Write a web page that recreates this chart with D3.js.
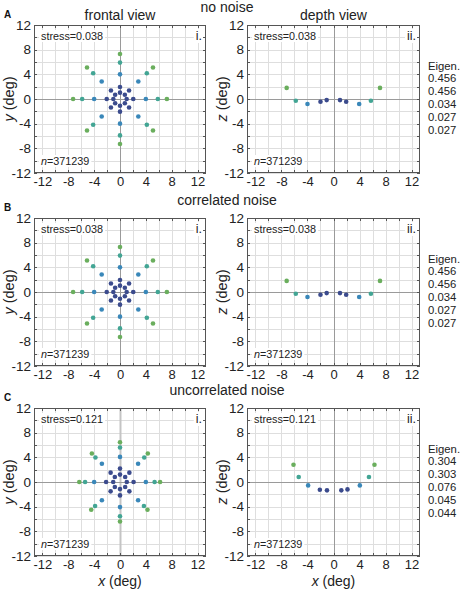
<!DOCTYPE html>
<html><head><meta charset="utf-8">
<script src="https://cdn.jsdelivr.net/npm/d3@7/dist/d3.min.js"></script>
<style>
body{margin:0;background:#fff;}
svg{display:block;font-family:"Liberation Sans",Arial,Helvetica,sans-serif;}
</style></head>
<body>
<script>
// ---------- data ----------
const tickValues = [-12,-8,-4,0,4,8,12];
const gridValues = [-12,-10,-8,-6,-4,-2,0,2,4,6,8,10,12];
const rowLetters = ['A','B','C'];
const rowTitles = ['no noise','correlated noise','uncorrelated noise'];
const stressValues = ['0.038','0.038','0.121'];
const nValue = '371239';
const eigenNoNoise = ['0.456','0.456','0.034','0.027','0.027'];
const eigenCorrelated = ['0.456','0.456','0.034','0.027','0.027'];
const eigenUncorrelated = ['0.304','0.303','0.076','0.045','0.044'];
const ringColors = ['#3b4b8d','#3b4b8d','#3987b9','#42a594','#6aae5d'];

// [x, y, ring]
const frontalNoNoise = [
 [1.03,0,0],[0.75,0.7,0],[0,1.03,0],[-0.75,0.7,0],[-1.03,0,0],[-0.75,-0.7,0],[0,-1.1,0],[0.75,-0.7,0],
 [2.05,0,1],[1.4,1.37,1],[0,1.95,1],[-1.4,1.37,1],[-2.05,0,1],[-1.4,-1.37,1],[0,-2.05,1],[1.4,-1.37,1],
 [4.0,0,2],[2.83,2.83,2],[0,4.0,2],[-2.83,2.83,2],[-4.0,0,2],[-2.83,-2.83,2],[0,-4.0,2],[2.83,-2.83,2],
 [5.85,0,3],[4.15,4.17,3],[0,5.9,3],[-4.15,4.17,3],[-5.85,0,3],[-4.15,-4.17,3],[0,-5.9,3],[4.15,-4.17,3],
 [7.25,0,4],[5.1,5.12,4],[0,7.3,4],[-5.1,5.12,4],[-7.25,0,4],[-5.1,-5.12,4],[0,-7.3,4],[5.1,-5.12,4]
];
const frontalCorrelated = [
 [1.03,0,0],[0.75,0.7,0],[0,1.03,0],[-0.75,0.7,0],[-1.03,0,0],[-0.75,-0.7,0],[0,-1.1,0],[0.75,-0.7,0],
 [2.05,0,1],[1.4,1.37,1],[0,1.95,1],[-1.4,1.37,1],[-2.05,0,1],[-1.4,-1.37,1],[0,-2.05,1],[1.4,-1.37,1],
 [4.0,0,2],[2.83,2.83,2],[0,4.0,2],[-2.83,2.83,2],[-4.0,0,2],[-2.83,-2.83,2],[0,-4.0,2],[2.83,-2.83,2],
 [5.85,0,3],[4.15,4.17,3],[0,5.9,3],[-4.15,4.17,3],[-5.85,0,3],[-4.15,-4.17,3],[0,-5.9,3],[4.15,-4.17,3],
 [7.25,0,4],[5.1,5.12,4],[0,7.3,4],[-5.1,5.12,4],[-7.25,0,4],[-5.1,-5.12,4],[0,-7.3,4],[5.1,-5.12,4]
];
const frontalUncorrelated = [
 [1.05,0,0],[0.8,0.8,0],[0,1.2,0],[-0.8,0.8,0],[-1.05,0,0],[-0.8,-0.8,0],[0,-1.15,0],[0.8,-0.8,0],
 [2.1,0,1],[1.45,1.52,1],[0,2.17,1],[-1.45,1.52,1],[-2.15,0,1],[-1.45,-1.52,1],[0,-2.17,1],[1.45,-1.52,1],
 [4.0,0,2],[2.8,2.95,2],[0,4.07,2],[-2.8,2.95,2],[-4.0,0,2],[-2.8,-2.95,2],[0,-4.07,2],[2.8,-2.95,2],
 [5.35,0,3],[3.75,3.97,3],[0,5.6,3],[-3.8,3.97,3],[-5.4,0,3],[-3.85,-3.9,3],[0,-5.55,3],[3.7,-3.9,3],
 [6.2,0,4],[4.3,4.62,4],[0,6.45,4],[-4.35,4.62,4],[-6.3,0,4],[-4.45,-4.5,4],[0,-6.4,4],[4.25,-4.5,4]
];
// [x, z, ring]
const depthNoNoise = [[-7.2,1.8,4],[-5.8,-0.28,3],[-4.0,-0.82,2],[-2.0,-0.45,1],[-1.05,-0.18,0],
 [1.0,-0.18,0],[1.95,-0.45,1],[3.95,-0.82,2],[5.75,-0.28,3],[7.15,1.8,4]];
const depthCorrelated = [[-7.2,1.8,4],[-5.8,-0.28,3],[-4.0,-0.82,2],[-2.0,-0.45,1],[-1.05,-0.18,0],
 [1.0,-0.18,0],[1.95,-0.45,1],[3.95,-0.82,2],[5.75,-0.28,3],[7.15,1.8,4]];
const depthUncorrelated = [[-6.15,2.8,4],[-5.35,0.8,3],[-3.9,-0.55,2],[-2.1,-1.25,1],[-1.0,-1.35,0],
 [1.2,-1.35,0],[2.15,-1.2,1],[4.05,-0.55,2],[5.45,0.8,3],[6.3,2.8,4]];

const rows = [
 {frontal: frontalNoNoise, depth: depthNoNoise, eigen: eigenNoNoise},
 {frontal: frontalCorrelated, depth: depthCorrelated, eigen: eigenCorrelated},
 {frontal: frontalUncorrelated, depth: depthUncorrelated, eigen: eigenUncorrelated}
];

// ---------- layout ----------
const W = 462, H = 589;
const cols = [{x0:34, x1:206}, {x0:247, x1:420}];
const rowBox = [{y0:25, y1:173}, {y0:218, y1:366}, {y0:408, y1:556}];

const svg = d3.select('body').append('svg').attr('width', W).attr('height', H);
svg.append('rect').attr('width', W).attr('height', H).attr('fill', '#fff');

function panel(g, box, rb, pts, yLetter, roman, stress, showX, thickZero) {
  const x = d3.scaleLinear().domain([-13.3, 13.3]).range([box.x0, box.x1]);
  const y = d3.scaleLinear().domain([-12, 12]).range([rb.y1, rb.y0]);
  // grid
  g.append('g').selectAll('line.gx').data(gridValues).join('line')
    .attr('x1', d => Math.round(x(d)) + 0.5).attr('x2', d => Math.round(x(d)) + 0.5)
    .attr('y1', rb.y0).attr('y2', rb.y1).attr('stroke', '#dedede').attr('stroke-width', 1);
  g.append('g').selectAll('line.gy').data(gridValues).join('line')
    .attr('y1', d => Math.round(y(d)) + 0.5).attr('y2', d => Math.round(y(d)) + 0.5)
    .attr('x1', box.x0).attr('x2', box.x1).attr('stroke', '#dedede').attr('stroke-width', 1);
  // zero lines
  g.append('line').attr('x1', Math.round(x(0)) + 0.5).attr('x2', Math.round(x(0)) + 0.5)
    .attr('y1', rb.y0).attr('y2', rb.y1)
    .attr('stroke', thickZero ? '#c4c4c4' : '#9a9a9a').attr('stroke-width', thickZero ? 2 : 1);
  g.append('line').attr('y1', Math.round(y(0)) + 0.5).attr('y2', Math.round(y(0)) + 0.5)
    .attr('x1', box.x0).attr('x2', box.x1).attr('stroke', '#9a9a9a').attr('stroke-width', 1);

  // text boxes
  const fs = 10.8;
  const st = g.append('text').attr('x', box.x0 + 7).attr('y', rb.y0 + 15)
    .attr('font-size', fs).attr('fill', '#222').text('stress=' + stress);
  const sb = st.node().getBBox();
  g.insert('rect', () => st.node()).attr('x', sb.x - 2).attr('y', sb.y).attr('width', sb.width + 4)
    .attr('height', sb.height).attr('fill', '#fff');
  const nt = g.append('text').attr('x', box.x0 + 7).attr('y', rb.y1 - 8)
    .attr('font-size', fs).attr('fill', '#222');
  nt.append('tspan').attr('font-style', 'italic').text('n');
  nt.append('tspan').text('=' + nValue);
  const nb = nt.node().getBBox();
  g.insert('rect', () => nt.node()).attr('x', nb.x - 2).attr('y', nb.y).attr('width', nb.width + 4)
    .attr('height', nb.height).attr('fill', '#fff');
  const rt = g.append('text').attr('x', box.x1 - 4).attr('y', rb.y0 + 15).attr('text-anchor', 'end')
    .attr('font-size', 12.5).attr('fill', '#222').text(roman);
  const rbb = rt.node().getBBox();
  g.insert('rect', () => rt.node()).attr('x', rbb.x - 2).attr('y', rbb.y).attr('width', rbb.width + 3)
    .attr('height', rbb.height).attr('fill', '#fff');

  // inner ticks
  const tk = g.append('g').attr('stroke', '#555').attr('stroke-width', 1);
  gridValues.forEach(v => {
    const px = Math.round(x(v)) + 0.5, py = Math.round(y(v)) + 0.5;
    tk.append('line').attr('x1', px).attr('x2', px).attr('y1', rb.y1).attr('y2', rb.y1 - 3);
    tk.append('line').attr('x1', px).attr('x2', px).attr('y1', rb.y0).attr('y2', rb.y0 + 3);
    tk.append('line').attr('y1', py).attr('y2', py).attr('x1', box.x0).attr('x2', box.x0 + 3);
    tk.append('line').attr('y1', py).attr('y2', py).attr('x1', box.x1).attr('x2', box.x1 - 3);
  });

  // axes labels via d3 axes
  const ax = g.append('g').attr('transform', `translate(0,${rb.y1})`)
    .call(d3.axisBottom(x).tickValues(tickValues).tickSize(0).tickPadding(4).tickFormat(d => String(d)));
  ax.select('.domain').remove();
  ax.selectAll('text').attr('font-size', 13).attr('fill', '#222')
    .attr('font-family', '"Liberation Sans",Arial,sans-serif');
  const ay = g.append('g').attr('transform', `translate(${box.x0},0)`)
    .call(d3.axisLeft(y).tickValues(tickValues).tickSize(0).tickPadding(3).tickFormat(d => String(d)));
  ay.select('.domain').remove();
  ay.selectAll('text').attr('font-size', 13.5).attr('fill', '#222')
    .attr('font-family', '"Liberation Sans",Arial,sans-serif');

  // frame
  g.append('rect').attr('x', box.x0 + 0.5).attr('y', rb.y0 + 0.5)
    .attr('width', box.x1 - box.x0 - 1).attr('height', rb.y1 - rb.y0 - 1)
    .attr('fill', 'none').attr('stroke', '#555').attr('stroke-width', 1);

  // points
  g.append('g').selectAll('circle').data(pts).join('circle')
    .attr('cx', d => x(d[0])).attr('cy', d => y(d[1])).attr('r', 2.3)
    .attr('fill', d => ringColors[d[2]]);

  // y label
  const cy = (rb.y0 + rb.y1) / 2;
  const yl = g.append('text').attr('transform', `translate(${box.x0 - 20},${cy}) rotate(-90)`)
    .attr('text-anchor', 'middle').attr('font-size', 14.5).attr('fill', '#222');
  yl.append('tspan').attr('font-style', 'italic').text(yLetter);
  yl.append('tspan').text(' (deg)');
  if (showX) {
    const xl = g.append('text').attr('x', (box.x0 + box.x1) / 2).attr('y', rb.y1 + 29.5)
      .attr('text-anchor', 'middle').attr('font-size', 14).attr('fill', '#222');
    xl.append('tspan').attr('font-style', 'italic').text('x');
    xl.append('tspan').text(' (deg)');
  }
}

rows.forEach((r, i) => {
  const rb = rowBox[i];
  const g = svg.append('g');
  panel(g, cols[0], rb, r.frontal, 'y', 'i.', stressValues[i], i === 2, i === 2);
  panel(g, cols[1], rb, r.depth, 'z', 'ii.', stressValues[i], i === 2, false);
  // row letter
  g.append('text').attr('x', 4).attr('y', rb.y0 - 7).attr('font-size', 10).attr('font-weight', 'bold')
    .attr('fill', '#111').text(rowLetters[i]);
  // row title
  g.append('text').attr('x', 227).attr('y', rb.y0 - 13).attr('text-anchor', 'middle')
    .attr('font-size', 14).attr('fill', '#222').text(rowTitles[i]);
  // eigen
  const et = g.append('g').attr('font-size', 11.3).attr('fill', '#222');
  et.append('text').attr('x', 428).attr('y', rb.y0 + 44.5).text('Eigen.');
  r.eigen.forEach((v, k) => {
    et.append('text').attr('x', 428).attr('y', rb.y0 + 44.5 + 12.8 * (k + 1)).text(v);
  });
});
// column titles (top row only)
svg.append('text').attr('x', (cols[0].x0 + cols[0].x1) / 2).attr('y', 20).attr('text-anchor', 'middle')
  .attr('font-size', 14).attr('fill', '#222').text('frontal view');
svg.append('text').attr('x', (cols[1].x0 + cols[1].x1) / 2).attr('y', 20).attr('text-anchor', 'middle')
  .attr('font-size', 14).attr('fill', '#222').text('depth view');
</script>
</body></html>
